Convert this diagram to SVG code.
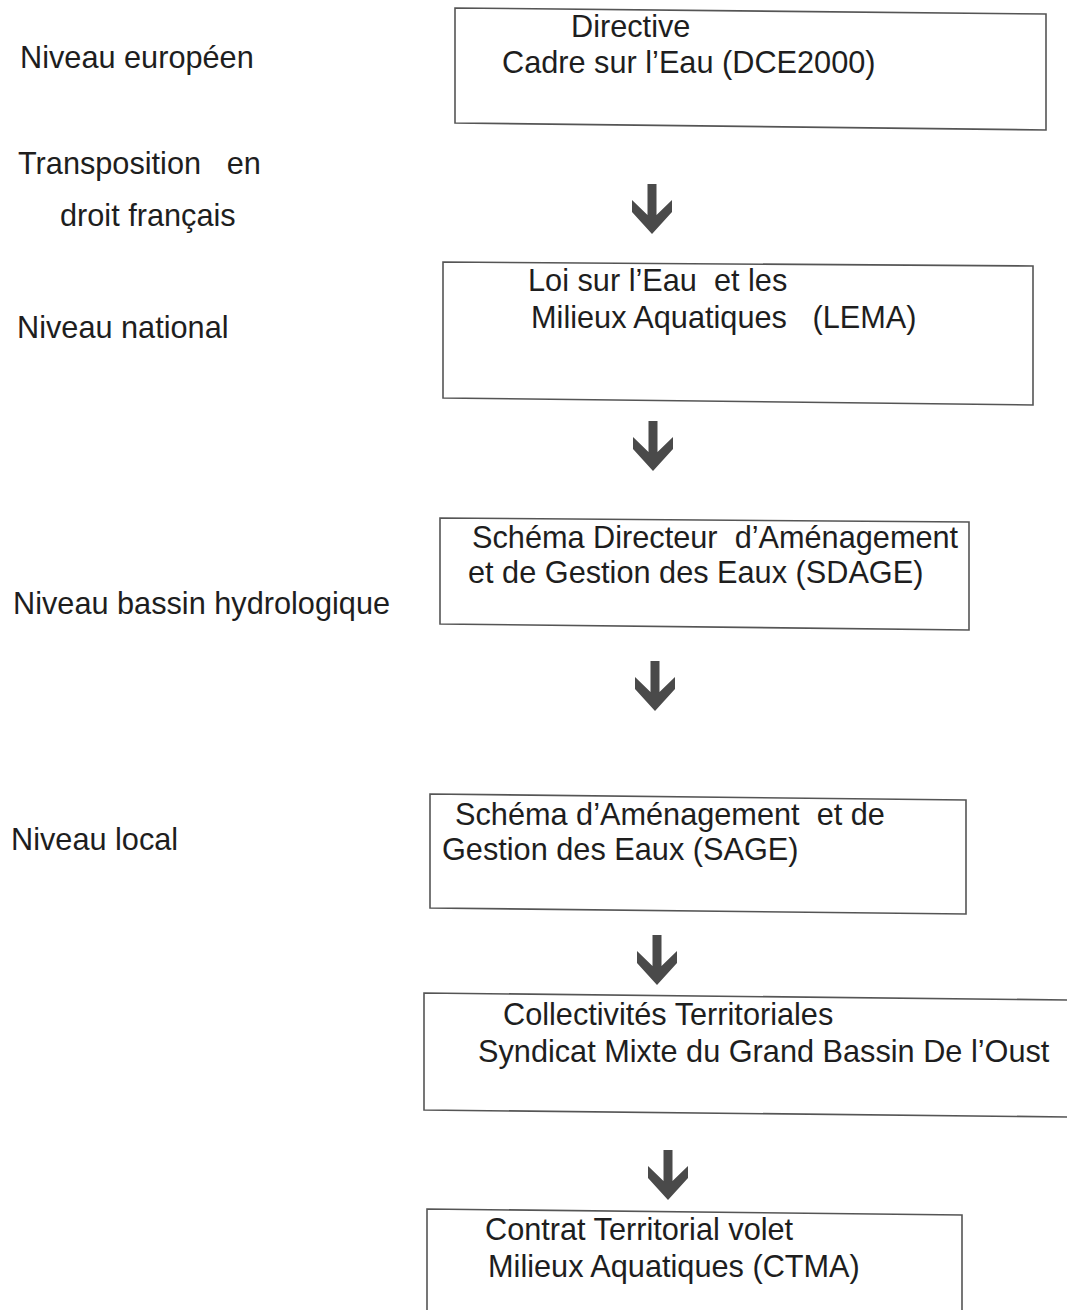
<svg xmlns="http://www.w3.org/2000/svg" width="1067" height="1310" viewBox="0 0 1067 1310">
<style>
text{font-family:"Liberation Sans",Arial,sans-serif;font-size:30.7px;fill:#1e1e1e}
.box{fill:#fff;stroke:#555;stroke-width:1.6}
.arr{fill:#4a4a4a}
</style>
<defs>
<path id="arrow" d="M-4.5,0 H4.5 V31 L20,16 V28 L0,50 L-20,28 V16 L-4.5,31 Z"/>
</defs>
<rect width="1067" height="1310" fill="#fff"/>
<g id="levels">
<text x="20" y="68">Niveau européen</text>
<text x="18" y="174" xml:space="preserve">Transposition   en</text>
<text x="60" y="226">droit français</text>
<text x="17" y="338">Niveau national</text>
<text x="13" y="614">Niveau bassin hydrologique</text>
<text x="11" y="850">Niveau local</text>
</g>
<g id="dce">
<polygon class="box" points="455,8 1046,14 1046,130 455,123"/>
<text x="571" y="37">Directive</text>
<text x="502" y="73">Cadre sur l’Eau (DCE2000)</text>
</g>
<g id="lema">
<polygon class="box" points="443,262 1033,266 1033,405 443,398"/>
<text x="528" y="291" xml:space="preserve">Loi sur l’Eau  et les</text>
<text x="531" y="328" xml:space="preserve">Milieux Aquatiques   (LEMA)</text>
</g>
<g id="sdage">
<polygon class="box" points="440,518 969,522 969,630 440,624"/>
<text x="472" y="548" xml:space="preserve">Schéma Directeur  d’Aménagement</text>
<text x="468" y="583">et de Gestion des Eaux (SDAGE)</text>
</g>
<g id="sage">
<polygon class="box" points="430,794 966,800 966,914 430,908"/>
<text x="455" y="825" xml:space="preserve">Schéma d’Aménagement  et de</text>
<text x="442" y="860">Gestion des Eaux (SAGE)</text>
</g>
<g id="collectivites">
<polygon class="box" points="424,993 1070,1000 1070,1117 424,1110"/>
<text x="503" y="1025">Collectivités Territoriales</text>
<text x="478" y="1062">Syndicat Mixte du Grand Bassin De l’Oust</text>
</g>
<g id="ctma">
<polygon class="box" points="427,1209 962,1215 962,1312 427,1312"/>
<text x="485" y="1240">Contrat Territorial volet</text>
<text x="488" y="1277">Milieux Aquatiques (CTMA)</text>
</g>
<g id="connectors">
<use href="#arrow" class="arr" x="652" y="184"/>
<use href="#arrow" class="arr" x="653" y="421"/>
<use href="#arrow" class="arr" x="655" y="661"/>
<use href="#arrow" class="arr" x="657" y="935"/>
<use href="#arrow" class="arr" x="668" y="1150"/>
</g>
</svg>
